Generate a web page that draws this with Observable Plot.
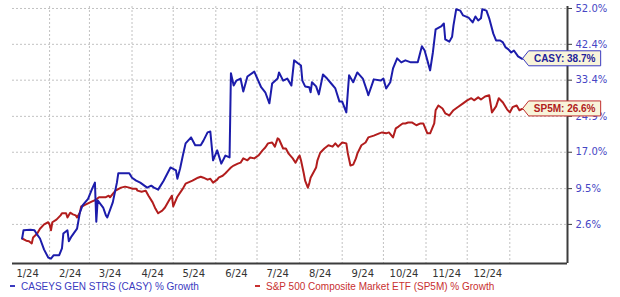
<!DOCTYPE html>
<html><head><meta charset="utf-8">
<script src="https://cdn.jsdelivr.net/npm/d3@7"></script>
<script src="https://cdn.jsdelivr.net/npm/@observablehq/plot@0.6"></script>
<style>
body{margin:0;background:#fff;}
#chart{width:620px;height:279px;}
#legend{position:relative;width:620px;height:16px;font:10px "Liberation Sans",Arial,sans-serif;line-height:16px;}
.item{position:absolute;top:0;white-space:nowrap;}
.sw{display:inline-block;width:5px;height:2px;vertical-align:middle;margin-right:6px;position:relative;top:-1px;}
</style></head><body>
<div id="chart"></div>
<div id="legend"></div>
<script>
const seriesNames = ["CASEYS GEN STRS (CASY) % Growth", "S&P 500 Composite Market ETF (SP5M) % Growth"];
const seriesTags = ["CASY", "SP5M"];

const casyDates = ["2024-01-12","2024-01-13","2024-01-18","2024-01-21","2024-01-23","2024-01-25","2024-01-28","2024-01-31","2024-02-02","2024-02-04","2024-02-08","2024-02-10","2024-02-11","2024-02-14","2024-02-15","2024-02-17","2024-02-21","2024-02-23","2024-02-25","2024-02-29","2024-03-03","2024-03-05","2024-03-06","2024-03-07","2024-03-11","2024-03-13","2024-03-14","2024-03-18","2024-03-21","2024-03-22","2024-03-25","2024-03-30","2024-04-01","2024-04-04","2024-04-07","2024-04-12","2024-04-15","2024-04-17","2024-04-20","2024-04-24","2024-04-29","2024-05-03","2024-05-04","2024-05-06","2024-05-08","2024-05-10","2024-05-14","2024-05-17","2024-05-21","2024-05-23","2024-05-26","2024-05-28","2024-05-30","2024-06-02","2024-06-05","2024-06-08","2024-06-11","2024-06-12","2024-06-14","2024-06-16","2024-06-19","2024-06-21","2024-06-24","2024-06-29","2024-07-04","2024-07-07","2024-07-10","2024-07-12","2024-07-16","2024-07-17","2024-07-20","2024-07-23","2024-07-26","2024-07-28","2024-07-31","2024-08-02","2024-08-03","2024-08-05","2024-08-08","2024-08-09","2024-08-10","2024-08-13","2024-08-15","2024-08-18","2024-08-21","2024-08-24","2024-08-27","2024-08-30","2024-09-01","2024-09-04","2024-09-06","2024-09-09","2024-09-12","2024-09-16","2024-09-19","2024-09-20","2024-09-24","2024-09-29","2024-10-01","2024-10-03","2024-10-06","2024-10-08","2024-10-11","2024-10-14","2024-10-17","2024-10-21","2024-10-23","2024-10-26","2024-10-29","2024-10-31","2024-11-02","2024-11-04","2024-11-06","2024-11-08","2024-11-12","2024-11-14","2024-11-15","2024-11-18","2024-11-20","2024-11-21","2024-11-23","2024-11-26","2024-11-28","2024-12-02","2024-12-05","2024-12-07","2024-12-09","2024-12-11","2024-12-12","2024-12-15","2024-12-17","2024-12-20","2024-12-22","2024-12-25","2024-12-27","2024-12-29","2024-12-31","2025-01-02","2025-01-04","2025-01-07","2025-01-10"];
const casyValues = [0.0,1.5,1.6,1.5,0.7,0.0,-2.0,-3.4,-3.6,-3.0,-3.0,-1.8,0.9,1.5,-0.5,0.4,1.8,4.8,6.2,7.5,9.5,10.7,3.1,7.2,5.8,4.3,3.9,6.8,10.7,12.6,12.6,12.6,11.7,11.1,10.7,9.7,10.1,9.7,9.3,11.1,13.8,13.2,11.5,13.6,16.3,18.9,20.2,18.5,18.5,19.5,21.3,21.5,15.3,17.4,14.6,16.3,15.9,35.1,32.1,33.3,33.8,30.7,34.3,35.5,31.7,30.5,27.9,32.6,33.8,35.3,33.3,33.8,32.1,38.3,37.5,37.0,33.3,31.9,31.7,30.5,32.9,31.9,30.0,34.8,33.8,32.6,31.4,28.3,28.3,25.8,34.6,32.9,35.3,33.8,30.9,29.8,33.6,33.3,33.8,31.4,32.9,36.3,38.8,37.8,38.3,37.8,37.8,37.8,41.9,40.8,38.3,35.8,40.3,46.3,47.1,47.9,43.7,43.1,44.4,47.4,51.8,51.4,50.1,49.5,48.2,49.8,48.7,49.3,51.8,51.4,49.3,45.2,43.4,43.4,42.9,41.6,41.1,40.3,40.8,39.3,38.7];

const sp5mDates = ["2024-01-12","2024-01-15","2024-01-17","2024-01-19","2024-01-20","2024-01-23","2024-01-25","2024-01-28","2024-01-31","2024-02-01","2024-02-02","2024-02-03","2024-02-06","2024-02-09","2024-02-10","2024-02-13","2024-02-14","2024-02-16","2024-02-18","2024-02-20","2024-02-21","2024-02-23","2024-02-24","2024-02-26","2024-02-29","2024-03-03","2024-03-05","2024-03-08","2024-03-11","2024-03-13","2024-03-15","2024-03-16","2024-03-20","2024-03-24","2024-03-27","2024-03-30","2024-04-01","2024-04-04","2024-04-05","2024-04-08","2024-04-11","2024-04-13","2024-04-16","2024-04-18","2024-04-20","2024-04-23","2024-04-25","2024-04-28","2024-04-30","2024-05-01","2024-05-04","2024-05-08","2024-05-10","2024-05-15","2024-05-19","2024-05-21","2024-05-23","2024-05-26","2024-05-28","2024-05-30","2024-06-02","2024-06-03","2024-06-06","2024-06-08","2024-06-10","2024-06-12","2024-06-14","2024-06-17","2024-06-19","2024-06-21","2024-06-24","2024-06-26","2024-06-29","2024-07-02","2024-07-05","2024-07-07","2024-07-09","2024-07-12","2024-07-14","2024-07-16","2024-07-17","2024-07-20","2024-07-22","2024-07-24","2024-07-27","2024-07-29","2024-07-31","2024-08-01","2024-08-02","2024-08-04","2024-08-05","2024-08-07","2024-08-08","2024-08-09","2024-08-13","2024-08-14","2024-08-16","2024-08-19","2024-08-22","2024-08-25","2024-08-27","2024-08-29","2024-09-01","2024-09-04","2024-09-05","2024-09-07","2024-09-09","2024-09-11","2024-09-12","2024-09-15","2024-09-18","2024-09-20","2024-09-24","2024-09-28","2024-09-30","2024-10-03","2024-10-05","2024-10-08","2024-10-10","2024-10-12","2024-10-15","2024-10-17","2024-10-19","2024-10-22","2024-10-25","2024-10-28","2024-10-30","2024-11-02","2024-11-04","2024-11-07","2024-11-08","2024-11-10","2024-11-13","2024-11-15","2024-11-18","2024-11-21","2024-11-24","2024-11-28","2024-12-01","2024-12-04","2024-12-06","2024-12-09","2024-12-11","2024-12-14","2024-12-17","2024-12-19","2024-12-22","2024-12-24","2024-12-27","2024-12-30","2025-01-01","2025-01-03","2025-01-06","2025-01-08","2025-01-10"];
const sp5mValues = [0.0,-0.4,-0.5,-0.9,0.2,0.9,1.8,2.6,3.0,2.6,1.5,3.0,3.5,4.3,4.7,4.7,3.9,4.8,4.5,4.3,3.9,4.8,6.0,6.2,6.6,7.0,7.2,7.8,7.8,7.8,8.1,7.8,9.1,9.7,9.9,9.7,9.5,9.5,9.1,8.9,9.1,8.1,6.8,5.6,4.7,5.2,5.8,7.2,8.1,6.0,7.9,9.5,10.5,11.1,11.7,11.9,11.7,11.3,11.5,10.7,11.3,11.7,12.1,12.6,13.2,13.8,14.2,14.6,14.8,15.7,15.3,15.9,15.7,16.3,17.4,18.0,18.9,19.1,18.2,20.0,19.8,17.8,17.8,16.7,15.7,14.8,15.9,16.3,15.3,12.6,11.1,9.7,10.5,11.7,13.8,15.3,16.9,17.8,18.5,18.2,18.9,18.2,19.1,18.9,16.9,14.2,14.4,15.7,16.7,18.5,19.1,20.2,20.6,21.1,21.3,21.1,21.3,20.2,22.2,22.6,23.3,23.3,23.5,23.5,22.9,23.3,23.3,21.1,21.1,23.3,26.3,27.4,26.7,25.6,25.1,26.3,27.0,27.9,28.6,29.1,28.6,29.3,28.8,29.5,29.8,25.8,27.2,29.1,28.1,26.5,25.8,27.0,27.4,26.3,26.6];

const yTicks = [2.6, 9.5, 17.0, 24.9, 33.4, 42.4, 52.0];
const yTickLabels = ["2.6%", "9.5%", "17.0%", "24.9%", "33.4%", "42.4%", "52.0%"];
const xTickDates = ["2024-01-16","2024-02-16","2024-03-16","2024-04-16","2024-05-16","2024-06-16","2024-07-16","2024-08-16","2024-09-16","2024-10-16","2024-11-16","2024-12-16"];
const xTickLabels = ["1/24","2/24","3/24","4/24","5/24","6/24","7/24","8/24","9/24","10/24","11/24","12/24"];
const gridMonths = ["2024-02-01","2024-03-01","2024-04-01","2024-05-01","2024-06-01","2024-07-01","2024-08-01","2024-09-01","2024-10-01","2024-11-01","2024-12-01","2025-01-01"];
const xDomain = ["2024-01-05", "2025-02-12"];
const yDomainPct = [-4.45, 52.55];

const casy = casyDates.map((d, i) => ({date: new Date(d), v: 100 + casyValues[i]}));
const sp5m = sp5mDates.map((d, i) => ({date: new Date(d), v: 100 + sp5mValues[i]}));

const xLabelMap = new Map(xTickDates.map((d, i) => [+new Date(d), xTickLabels[i]]));
const yLabelMap = new Map(yTicks.map((t, i) => [+(100 + t).toFixed(2), yTickLabels[i]]));

const blue = "#1c1cab", red = "#b21d1d";

function endLabel(rows, text, stroke, textFill) {
  return (index, scales) => {
    const last = rows[rows.length - 1];
    const x = scales.x(last.date), y = scales.y(last.v);
    const g = d3.create("svg:g");
    g.append("path")
      .attr("d", `M${x + 1},${y}L${x + 7},${y - 7.5}H${x + 79}V${y + 7.5}H${x + 7}Z`)
      .attr("fill", "#f8f4da").attr("stroke", stroke).attr("stroke-width", 1);
    g.append("text")
      .attr("x", x + 43).attr("y", y).attr("dy", "0.35em")
      .attr("text-anchor", "middle")
      .attr("font-family", "'Liberation Sans', Arial, sans-serif")
      .attr("font-weight", "bold").attr("font-size", 10)
      .attr("fill", textFill).text(text);
    return g.node();
  };
}

const last = a => a[a.length - 1];

const chart = Plot.plot({
  width: 620, height: 279,
  marginLeft: 12, marginRight: 53, marginTop: 6, marginBottom: 16,
  style: {fontFamily: "'DejaVu Sans', Verdana, sans-serif", fontSize: "10px", background: "#fff", overflow: "visible"},
  x: {type: "utc", domain: xDomain.map(d => new Date(d))},
  y: {type: "log", domain: yDomainPct.map(p => 100 + p)},
  marks: [
    Plot.gridY(yTicks.map(t => 100 + t), {stroke: "#c2c2c2", strokeOpacity: 1, strokeDasharray: "2,2"}),
    Plot.gridX(gridMonths.map(d => new Date(d)), {stroke: "#c2c2c2", strokeOpacity: 1, strokeDasharray: "2,2"}),
    Plot.axisX(xTickDates.map(d => new Date(d)), {tickSize: 0, tickPadding: 6, tickFormat: d => xLabelMap.get(+d), fill: "#333", fontSize: 10, label: null}),
    Plot.ruleY([100 + yDomainPct[0]], {stroke: "#3c3c3c", strokeWidth: 2}),
    Plot.ruleX([new Date(xDomain[1])], {stroke: "#3c3c3c", strokeWidth: 2}),
    Plot.axisY(yTicks.map(t => 100 + t), {anchor: "right", tickSize: 4, tickPadding: 4, tickFormat: d => yLabelMap.get(+(+d).toFixed(2)), stroke: "#3c3c3c", fill: "#4646c4", fontSize: 10, label: null}),
    Plot.line(sp5m, {x: "date", y: "v", stroke: red, strokeWidth: 2}),
    Plot.line(casy, {x: "date", y: "v", stroke: blue, strokeWidth: 2}),
    endLabel(casy, `${seriesTags[0]}: ${last(casyValues).toFixed(1)}%`, "#3b3bc0", "#22229a"),
    endLabel(sp5m, `${seriesTags[1]}: ${last(sp5mValues).toFixed(1)}%`, "#c03030", "#b02020")
  ]
});
document.getElementById("chart").appendChild(chart);

const legend = document.getElementById("legend");
const legendItems = [
  {left: 10, color: "#3a3abf", text: seriesNames[0]},
  {left: 255, color: "#c83030", text: seriesNames[1]}
];
for (const it of legendItems) {
  const div = document.createElement("div");
  div.className = "item";
  div.style.left = it.left + "px";
  div.style.color = it.color;
  const sw = document.createElement("span");
  sw.className = "sw";
  sw.style.background = it.color;
  div.appendChild(sw);
  div.appendChild(document.createTextNode(it.text));
  legend.appendChild(div);
}
</script></body></html>
